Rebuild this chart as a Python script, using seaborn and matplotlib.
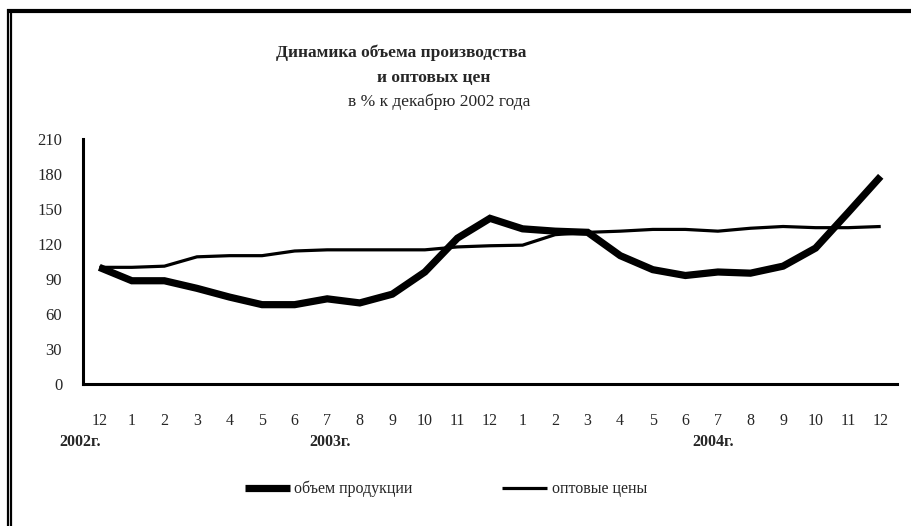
import matplotlib
matplotlib.use("Agg")
import matplotlib.pyplot as plt
import matplotlib.transforms as mtransforms
from matplotlib.lines import Line2D
import seaborn as sns
import pandas as pd

# ---- data ----
month_labels = ["12", "1", "2", "3", "4", "5", "6", "7", "8", "9", "10", "11", "12",
                "1", "2", "3", "4", "5", "6", "7", "8", "9", "10", "11", "12"]
year_labels = ["2002г.", "2003г.", "2004г."]
year_positions = [-0.6, 7.1, 18.85]
production = [100, 88.5, 88.5, 82, 74.5, 68, 68, 73, 69.5, 77, 96, 125, 142,
              133, 131, 130, 110, 98, 93, 96, 95, 101, 116.5, 147, 178]
prices = [100, 100, 101, 109, 110, 110, 114, 115, 115, 115, 115, 117.5, 118.5,
          119, 128, 130, 131, 132.5, 132.5, 131, 133.5, 135, 134, 134, 135]
series_names = ["объем продукции", "оптовые цены"]
y_ticks = [0, 30, 60, 90, 120, 150, 180, 210]
title_lines = ["Динамика объема производства", "и оптовых цен", "в % к декабрю 2002 года"]

idx = list(range(len(month_labels)))
df = pd.DataFrame({"idx": idx * 2,
                   "value": production + prices,
                   "series": [series_names[0]] * len(idx) + [series_names[1]] * len(idx)})

sns.set_theme(style="white")
plt.rcParams["font.family"] = ["Liberation Serif", "DejaVu Serif"]

W, H = 912, 526
fig = plt.figure(figsize=(W / 100, H / 100), dpi=100)
ax = fig.add_axes([83 / W, 1 - 384 / H, (897 - 83) / W, (384 - 139) / H])

sns.lineplot(data=df, x="idx", y="value", hue="series", size="series",
             sizes={series_names[0]: 5.2, series_names[1]: 2.3},
             palette={series_names[0]: "black", series_names[1]: "black"},
             sort=False, ax=ax, legend=False)
for ln in ax.get_lines():
    ln.set_solid_capstyle("butt")
    ln.set_solid_joinstyle("miter")

ax.set_xlim(-0.5, len(idx) - 0.5)
ax.set_ylim(0, 210)
ax.set_xlabel("")
ax.set_ylabel("")

for side in ["top", "right"]:
    ax.spines[side].set_visible(False)
for side in ["left", "bottom"]:
    ax.spines[side].set_color("black")
    ax.spines[side].set_linewidth(2.2)

ax.set_yticks(y_ticks)
ax.set_yticklabels([str(v) for v in y_ticks], fontsize=12)
ax.tick_params(axis="y", direction="out", length=5, width=2.2, color="black", pad=10)

# major ticks at category boundaries, labels at category centres
ax.set_xticks([i - 0.5 for i in range(len(idx) + 1)])
ax.set_xticklabels([])
ax.set_xticks(idx, minor=True)
ax.set_xticklabels(month_labels, minor=True, fontsize=11.5)
ax.tick_params(axis="x", which="major", direction="out", length=4, width=2.2, color="black")
ax.tick_params(axis="x", which="minor", length=0, pad=21)
ax.grid(False)

trans = mtransforms.blended_transform_factory(ax.transData, fig.transFigure)
for lbl, xpos in zip(year_labels, year_positions):
    ax.text(xpos, 1 - 442 / H, lbl, transform=trans, ha="center", va="center",
            fontsize=11.5, fontweight="bold")

fig.text(401 / W, 1 - 53 / H, title_lines[0], ha="center", va="center",
         fontsize=12.5, fontweight="bold")
fig.text(434 / W, 1 - 78 / H, title_lines[1], ha="center", va="center",
         fontsize=12.5, fontweight="bold")
fig.text(439 / W, 1 - 102 / H, title_lines[2], ha="center", va="center",
         fontsize=12.5)

handles = [Line2D([], [], color="black", lw=5.2, solid_capstyle="butt"),
           Line2D([], [], color="black", lw=2.3, solid_capstyle="butt")]
fig.legend(handles, series_names, loc="center", bbox_to_anchor=(446 / W, 1 - 489 / H),
           ncol=2, frameon=False, fontsize=11.5, handlelength=2.8, handletextpad=0.3,
           columnspacing=5.6)

# border
fig.add_artist(Line2D([7 / W, 1], [1 - 11 / H, 1 - 11 / H], color="black", lw=3,
                      transform=fig.transFigure, solid_capstyle="butt"))
fig.add_artist(Line2D([8 / W, 8 / W], [0, 1 - 9 / H], color="black", lw=1.6,
                      transform=fig.transFigure, solid_capstyle="butt"))
fig.add_artist(Line2D([11.5 / W, 11.5 / W], [0, 1 - 12 / H], color="black", lw=1.6,
                      transform=fig.transFigure, solid_capstyle="butt"))

fig.savefig("out.png", dpi=100)
